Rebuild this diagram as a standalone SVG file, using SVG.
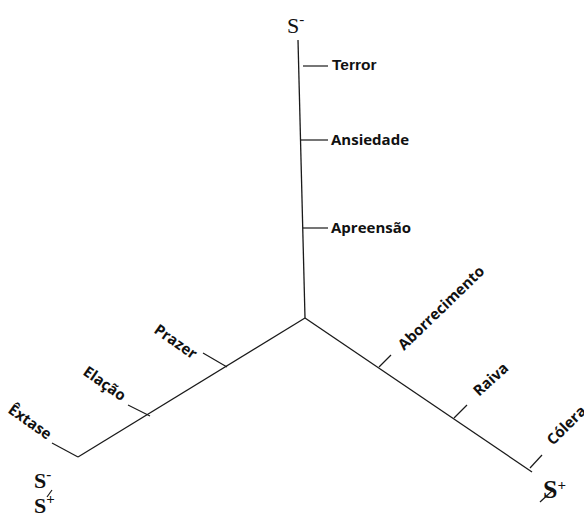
<svg xmlns="http://www.w3.org/2000/svg" width="584" height="514" viewBox="0 0 584 514">
<style>
.ax{stroke:#1a1a1a;stroke-width:1.3;fill:none}
.tk{stroke:#1a1a1a;stroke-width:1.2;fill:none}
.lb{font-family:"Open Sans",sans-serif;font-weight:bold;font-size:15px;fill:#111}
.s{font-family:"Liberation Serif",serif;font-size:24px;fill:#111}
.b{font-weight:bold}
.sup{font-size:15px}
</style>
<rect width="584" height="514" fill="#fff"/>
<g id="connectors">
<line class="ax" x1="298" y1="40" x2="305" y2="318"/>
<line class="ax" x1="305" y1="318" x2="532" y2="472"/>
<line class="ax" x1="305" y1="318" x2="78" y2="457"/>
</g>
<g id="terror"><line class="tk" x1="303" y1="66" x2="328" y2="66"/><text class="lb" x="332" y="70" style="font-family:'Liberation Sans',sans-serif;font-size:15.5px">Terror</text></g>
<g id="ansiedade"><line class="tk" x1="301" y1="140" x2="328" y2="140"/><text class="lb" x="331" y="145">Ansiedade</text></g>
<g id="apreensao"><line class="tk" x1="303" y1="228" x2="328" y2="228"/><text class="lb" x="331" y="233">Apreensão</text></g>
<g id="aborrecimento"><line class="tk" x1="379" y1="367" x2="391" y2="355"/><text class="lb" transform="translate(404,351) rotate(-44)">Aborrecimento</text></g>
<g id="raiva"><line class="tk" x1="454" y1="418" x2="467" y2="405"/><text class="lb" transform="translate(479,397) rotate(-42)">Raiva</text></g>
<g id="colera"><line class="tk" x1="530" y1="468" x2="542" y2="455"/><text class="lb" transform="translate(553,446) rotate(-45)">Cólera</text></g>
<g id="prazer"><line class="tk" x1="227" y1="367" x2="203" y2="353"/><text class="lb" transform="translate(153,332) rotate(35)">Prazer</text></g>
<g id="elacao"><line class="tk" x1="150" y1="416" x2="128" y2="405"/><text class="lb" transform="translate(82,374) rotate(35)">Elação</text></g>
<g id="extase"><line class="tk" x1="78" y1="457" x2="52" y2="443"/><text class="lb" transform="translate(7,412) rotate(35)">Êxtase</text></g>
<g id="s-top"><text class="s" x="287" y="33" style="font-size:22px">S<tspan class="sup" dy="-9">-</tspan></text></g>
<g id="s-left"><text class="s b" x="34" y="488" style="font-size:22px">S<tspan class="sup" dy="-9">-</tspan></text><text class="s b" x="34" y="513" style="font-size:22px">S<tspan class="sup" dy="-9">+</tspan></text><line class="tk" x1="47" y1="497" x2="52" y2="490"/></g>
<g id="s-right"><text class="s b" x="543" y="498" style="font-size:26px">S<tspan class="sup" dy="-8">+</tspan></text><line class="tk" x1="540" y1="502" x2="553" y2="490"/></g>
</svg>
